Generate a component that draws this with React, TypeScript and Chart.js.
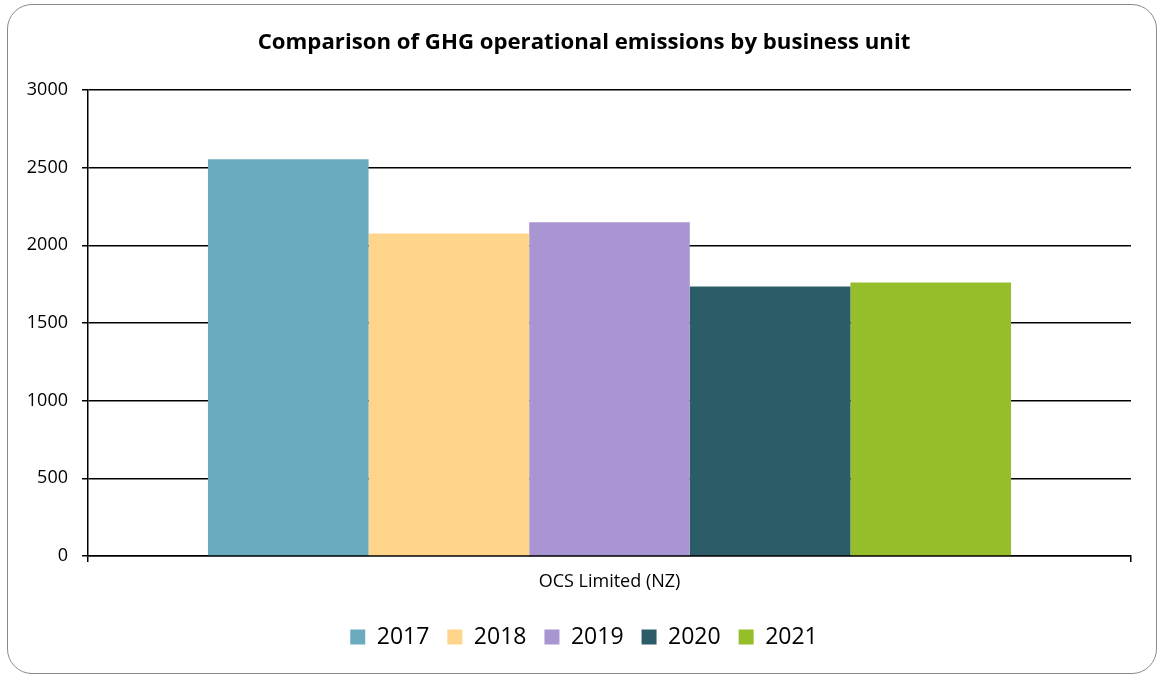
import React, { useEffect, useRef } from "react";
import { Chart, registerables } from "chart.js";

Chart.register(...registerables);

const titleText = "Comparison of GHG operational emissions by business unit";
const categories = ["OCS Limited (NZ)"];
const seriesLabels = ["2017", "2018", "2019", "2020", "2021"];
const values2017 = [2555];
const values2018 = [2077];
const values2019 = [2148];
const values2020 = [1735];
const values2021 = [1761];
const seriesColors = ["#6AACBD", "#FFD58C", "#A995D1", "#2D5C69", "#96BD2A"];
const yMin = 0;
const yMax = 3000;
const yStep = 500;

const W = 1157;
const H = 675;
const FONT = "'Open Sans', Lato, sans-serif";

export default function App() {
  const ref = useRef<HTMLCanvasElement | null>(null);

  useEffect(() => {
    if (!ref.current) return;
    const seriesValues = [values2017, values2018, values2019, values2020, values2021];
    const chart = new Chart(ref.current, {
      type: "bar",
      data: {
        labels: categories,
        datasets: seriesLabels.map((label, i) => ({
          label,
          data: seriesValues[i],
          backgroundColor: seriesColors[i],
          borderWidth: 0,
          categoryPercentage: 0.77,
          barPercentage: 1,
          yAxisID: "y",
        })),
      },
      options: {
        responsive: false,
        animation: false,
        layout: { padding: { left: 11, right: 0, top: 10, bottom: 16.5 } },
        plugins: {
          title: {
            display: true,
            text: titleText,
            color: "#000",
            font: { family: FONT, size: 22.2, weight: "bold" },
            padding: { top: 19.7, bottom: 33.7 },
          },
          legend: {
            position: "bottom",
            labels: {
              color: "#000",
              font: { family: FONT, size: 23 },
              boxWidth: 15,
              boxHeight: 15,
              padding: 18,
            },
          },
          tooltip: { enabled: false },
        },
        scales: {
          x: {
            grid: { display: true, drawOnChartArea: false, drawTicks: true, tickLength: 6, color: "#000", lineWidth: 1.5 },
            border: { display: true, color: "#000", width: 1.5 },
            ticks: { color: "#000", font: { family: FONT, size: 18 }, padding: 9 },
            afterFit: (scale: any) => {
              scale.height = 51.5;
            },
          },
          y: {
            position: "left",
            min: yMin,
            max: yMax,
            grid: { color: "#000", lineWidth: 1.5, tickLength: 6, drawTicks: true },
            border: { display: true, color: "#000", width: 1.5 },
            ticks: {
              stepSize: yStep,
              color: "#000",
              font: { family: FONT, size: 18 },
              padding: 14,
              callback: (value: any) => String(value),
            },
            afterFit: (scale: any) => {
              scale.width = 77;
            },
          },
          yRight: {
            position: "right",
            display: true,
            min: yMin,
            max: yMax,
            grid: { display: false },
            border: { display: false },
            ticks: { display: false },
            afterFit: (scale: any) => {
              scale.width = 26;
            },
          },
        },
      },
    });
    return () => chart.destroy();
  }, []);

  return (
    <div style={{ position: "absolute", left: 0, top: 0, width: W, height: H, background: "#fff" }}>
      <div
        style={{
          position: "absolute",
          left: 7,
          top: 4,
          width: 1150,
          height: 670,
          boxSizing: "border-box",
          border: "1.5px solid #8a8a8a",
          borderRadius: 25,
        }}
      />
      <canvas ref={ref} width={W} height={H} style={{ position: "absolute", left: 0, top: 0 }} />
    </div>
  );
}
